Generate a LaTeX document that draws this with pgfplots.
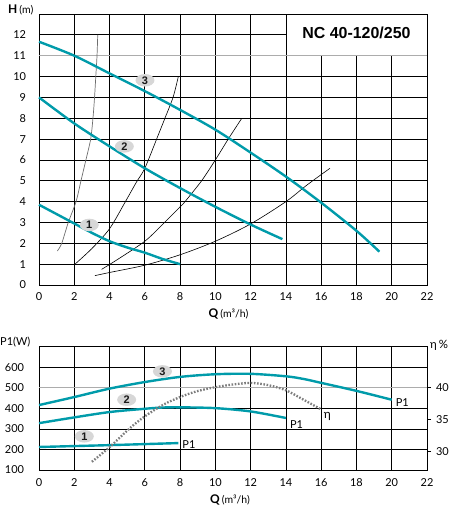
\documentclass[border=0pt]{standalone}
\usepackage{pgfplots}
\pgfplotsset{compat=1.18}
\usepackage{fontspec}
\setmainfont{Lato}
\newfontfamily\titlefont{Liberation Sans}
\usetikzlibrary{shapes.geometric}
\definecolor{pumpteal}{RGB}{0,155,170}
\definecolor{gridgray}{RGB}{172,172,172}
\definecolor{etagray}{RGB}{125,125,125}
\definecolor{bubblegray}{RGB}{215,215,215}
\definecolor{sysgray}{RGB}{110,110,110}
\tikzset{bubble/.style={ellipse, fill=bubblegray, minimum width=19bp, minimum height=12.5bp, inner sep=0pt, font=\titlefont\bfseries\fontsize{11}{12}\selectfont, text=black!90}}
\begin{document}
\begin{tikzpicture}
\useasboundingbox (-39bp,-231bp) rectangle (421bp,285bp);
% ---------------- top: H-Q ----------------
\begin{axis}[
  at={(0,0)}, anchor=south west, scale only axis, width=388bp, height=271bp,
  xmin=0, xmax=22, ymin=0, ymax=13,
  xtick={0,2,...,22}, ytick={0,1,...,12},
  major tick length=0,
  axis line style={line width=0.8bp},
  tick label style={font=\fontsize{11}{13}\selectfont},
  /pgf/number format/assume math mode=true,
  xticklabel style={yshift=-4bp},
  yticklabel style={xshift=-9.5bp},
  clip=false,
]
% grid
\draw[line width=0.8bp] (axis cs:2,0) -- (axis cs:2,13);
\draw[line width=0.8bp] (axis cs:4,0) -- (axis cs:4,13);
\draw[line width=0.8bp] (axis cs:6,0) -- (axis cs:6,13);
\draw[line width=0.8bp] (axis cs:8,0) -- (axis cs:8,13);
\draw[line width=0.8bp] (axis cs:10,0) -- (axis cs:10,13);
\draw[line width=0.8bp] (axis cs:12,0) -- (axis cs:12,13);
\draw[line width=0.8bp] (axis cs:14,0) -- (axis cs:14,13);
\draw[line width=0.8bp] (axis cs:16,0) -- (axis cs:16,11);
\draw[line width=0.8bp] (axis cs:18,0) -- (axis cs:18,11);
\draw[line width=0.8bp] (axis cs:20,0) -- (axis cs:20,11);
\draw[line width=0.8bp] (axis cs:0,1) -- (axis cs:22,1);
\draw[line width=0.8bp] (axis cs:0,2) -- (axis cs:22,2);
\draw[line width=0.8bp] (axis cs:0,3) -- (axis cs:22,3);
\draw[line width=0.8bp] (axis cs:0,4) -- (axis cs:22,4);
\draw[line width=0.8bp] (axis cs:0,5) -- (axis cs:22,5);
\draw[line width=0.8bp] (axis cs:0,6) -- (axis cs:22,6);
\draw[line width=0.8bp] (axis cs:0,7) -- (axis cs:22,7);
\draw[line width=0.8bp] (axis cs:0,8) -- (axis cs:22,8);
\draw[line width=0.8bp] (axis cs:0,9) -- (axis cs:22,9);
\draw[line width=0.8bp] (axis cs:0,10) -- (axis cs:22,10);
\draw[line width=1.1bp, gridgray] (axis cs:0,11) -- (axis cs:22,11);
\draw[line width=0.8bp] (axis cs:0,12) -- (axis cs:14,12);
% system curves
\addplot[sysgray, line width=0.7bp, smooth] coordinates {(1.04,1.63) (1.29,2) (1.66,3) (2.1,4) (2.38,5) (2.66,6) (2.93,7) (3.06,8) (3.15,9) (3.22,10) (3.29,11) (3.33,12)};
\addplot[black, line width=0.6bp, smooth] coordinates {(2.04,1.0) (3,1.75) (4,2.7) (4.9,4) (5.5,4.9) (6,5.6) (6.67,7) (7.14,8) (7.6,9) (7.9,10)};
\addplot[black, line width=0.6bp, smooth] coordinates {(3.55,0.75) (4.5,1.25) (6,2.1) (7,2.9) (8,3.75) (8.28,4) (9.22,5) (10,6) (10.73,7) (11.5,8)};
\addplot[black, line width=0.6bp, smooth] coordinates {(3.17,0.45) (4,0.6) (6,0.95) (8,1.45) (10,2.1) (12,2.93) (14,4.0) (15.2,4.8) (16.5,5.6)};
% pump curves
\addplot[pumpteal, line width=2.4bp, smooth] coordinates {(0,11.67) (2,11.0) (4,10.15) (6,9.3) (8,8.4) (10,7.45) (12,6.35) (14,5.2) (16,3.95) (18,2.6) (19.3,1.6)};
\addplot[pumpteal, line width=2.4bp, smooth] coordinates {(0,9.0) (2,7.75) (4,6.65) (6,5.6) (8,4.65) (10,3.75) (12,2.9) (13.8,2.2)};
\addplot[pumpteal, line width=2.4bp, smooth] coordinates {(0,3.85) (1,3.4) (2,2.95) (3,2.5) (4,2.1) (5,1.8) (6,1.55) (7,1.25) (8,1.0)};
\node[bubble] at (axis cs:2.85,2.88) {1};
\node[bubble] at (axis cs:4.84,6.65) {2};
\node[bubble] at (axis cs:6.01,9.82) {3};
\node[font=\titlefont\bfseries\fontsize{16}{18}\selectfont] at (axis cs:18,12.08) {NC 40-120/250};
\end{axis}
\node[anchor=west, inner sep=0pt] at (-31bp,275bp) {\fontsize{12}{14}\selectfont\textbf{H}\,{\fontsize{10.5}{12}\selectfont(m)}};
\node[inner sep=0pt] at (189.5bp,-29.3bp) {\fontsize{12}{14}\selectfont\textbf{Q}\,{\fontsize{10.5}{12}\selectfont(m³/h)}};
% ---------------- bottom: P1-Q ----------------
\begin{axis}[
  at={(0,-185bp)}, anchor=south west, scale only axis, width=388bp, height=123.3bp,
  xmin=0, xmax=22, ymin=100, ymax=700,
  xtick={0,2,...,22}, ytick={100,200,...,600},
  major tick length=0,
  axis line style={line width=0.8bp},
  tick label style={font=\fontsize{11}{13}\selectfont},
  /pgf/number format/assume math mode=true,
  xticklabel style={yshift=-5.5bp},
  yticklabel style={xshift=-11.5bp},
  clip=false,
]
\draw[line width=0.8bp] (axis cs:2,100) -- (axis cs:2,700);
\draw[line width=0.8bp] (axis cs:4,100) -- (axis cs:4,700);
\draw[line width=0.8bp] (axis cs:6,100) -- (axis cs:6,700);
\draw[line width=0.8bp] (axis cs:8,100) -- (axis cs:8,700);
\draw[line width=0.8bp] (axis cs:10,100) -- (axis cs:10,700);
\draw[line width=0.8bp] (axis cs:12,100) -- (axis cs:12,700);
\draw[line width=0.8bp] (axis cs:14,100) -- (axis cs:14,700);
\draw[line width=0.8bp] (axis cs:16,100) -- (axis cs:16,700);
\draw[line width=0.8bp] (axis cs:18,100) -- (axis cs:18,700);
\draw[line width=0.8bp] (axis cs:20,100) -- (axis cs:20,700);
\draw[line width=0.8bp] (axis cs:0,200) -- (axis cs:22,200);
\draw[line width=0.8bp] (axis cs:0,300) -- (axis cs:22,300);
\draw[line width=0.8bp] (axis cs:0,400) -- (axis cs:22,400);
\draw[line width=1.1bp, gridgray] (axis cs:0,500) -- (axis cs:22,500);
\draw[line width=0.8bp] (axis cs:0,600) -- (axis cs:22,600);
\addplot[pumpteal, line width=2.4bp, smooth] coordinates {(0,416) (2,455) (4,496) (6,528) (8,553) (10,566) (12,568) (14,556) (15,543) (16,524) (18,485) (20,442)};
\addplot[pumpteal, line width=2.4bp, smooth] coordinates {(0,328) (2,356) (4,382) (6,398) (7,404) (8,405) (10,401) (12,385) (14,353)};
\addplot[pumpteal, line width=2.4bp, smooth] coordinates {(0,212) (4,221) (7.9,231)};
\node[bubble] at (axis cs:2.57,264) {1};
\node[bubble] at (axis cs:4.97,442) {2};
\node[bubble] at (axis cs:7.0,580) {3};
\node[font=\fontsize{11}{13}\selectfont] at (axis cs:8.5,226) {P1};
\node[font=\fontsize{11}{13}\selectfont] at (axis cs:14.6,320) {P1};
\node[font=\fontsize{11}{13}\selectfont] at (axis cs:20.6,426) {P1};
\node[font=\fontsize{12}{14}\selectfont] at (axis cs:16.35,360) {η};
\end{axis}
\begin{axis}[
  at={(0,-185bp)}, anchor=south west, scale only axis, width=388bp, height=123.3bp,
  xmin=0, xmax=22, ymin=27.1, ymax=46.45,
  axis y line*=right, axis x line=none,
  ytick={30,35,40},
  tick align=outside, major tick length=4bp,
  tick style={line width=0.8bp, black},
  axis line style={line width=0.8bp},
  tick label style={font=\fontsize{11}{13}\selectfont},
  /pgf/number format/assume math mode=true,
  yticklabel style={xshift=1.5bp},
  clip=false,
]
\addplot[etagray, line width=2.3bp, dash pattern=on 1.6bp off 1.6bp, smooth] coordinates {(3,28.39) (4,30.68) (5.16,33.68) (6,35.52) (7.05,37.35) (8,38.55) (8.94,39.45) (10,40.1) (11,40.52) (12,40.77) (13,40.42) (14,39.61) (15,38.13) (15.95,36.68)};
\end{axis}
\node[anchor=west, inner sep=0pt] at (-39bp,-56.7bp) {\fontsize{11}{13}\selectfont P1(W)};
\node[anchor=west, inner sep=0pt] at (391bp,-60bp) {\fontsize{11.5}{13}\selectfont η\,\%};
\node[inner sep=0pt] at (191bp,-215bp) {\fontsize{12}{14}\selectfont\textbf{Q}\,{\fontsize{10.5}{12}\selectfont(m³/h)}};
\end{tikzpicture}
\end{document}
